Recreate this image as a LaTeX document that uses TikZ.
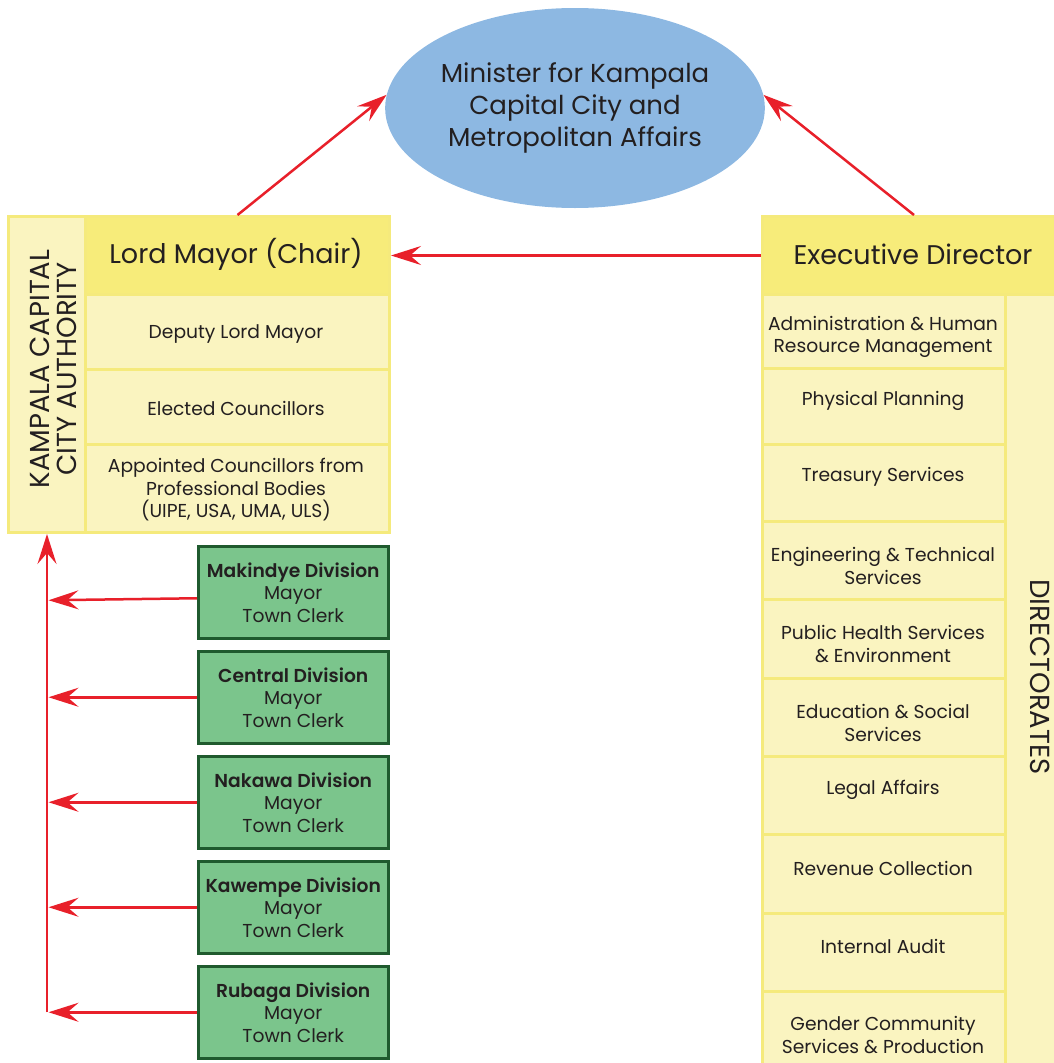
\documentclass[tikz,border=0pt]{standalone}
\usepackage{fontspec}
\setmainfont{Poppins}[BoldFont={Poppins SemiBold}]
\usetikzlibrary{arrows.meta,shapes.geometric}
\definecolor{kred}{HTML}{E8202A}
\definecolor{kblue}{HTML}{8DB8E2}
\definecolor{kyel}{HTML}{F7EC7A}
\definecolor{klight}{HTML}{FAF4C0}
\definecolor{kborder}{HTML}{F5EA7C}
\definecolor{kgreen}{HTML}{7BC58C}
\definecolor{kdgreen}{HTML}{1F5A2E}
\definecolor{ktext}{HTML}{231F20}
\begin{document}
\begin{tikzpicture}[x=1pt,y=-1pt,
  every node/.style={text=ktext, inner sep=0pt, align=center},
  cell/.style={draw=kborder, line width=3pt, fill=klight, anchor=north west},
  headcell/.style={draw=kborder, line width=3pt, fill=kyel, anchor=north west},
  divbox/.style={draw=kdgreen, line width=2.5pt, fill=kgreen, minimum width=190pt, minimum height=92pt, anchor=north west},
  bigtxt/.style={font=\fontsize{27}{32}\selectfont},
  smalltxt/.style={font=\fontsize{18.7}{22.5}\selectfont},
  rottxt/.style={font=\fontsize{27.5}{27}\selectfont},
  arr/.style={draw=kred, line width=2.5pt, -{Stealth[length=30pt,width=19pt,inset=11pt]}},
  redline/.style={draw=kred, line width=2.5pt}]
\useasboundingbox (0,0) rectangle (1054,1063);

% Minister ellipse
\node[ellipse, fill=kblue, minimum width=376pt, minimum height=200pt,
  font=\fontsize{26}{32}\selectfont] (min) at (575,108)
  {Minister for Kampala\\Capital City and\\Metropolitan Affairs};

% KCCA block
\node[cell, minimum width=77pt, minimum height=316pt] (kcca) at (7,215) {};
\node[headcell, minimum width=304pt, minimum height=78pt] (lm) at (84,215) {};
\node[cell, minimum width=304pt, minimum height=75pt] (dep) at (84,293) {};
\node[cell, minimum width=304pt, minimum height=75pt] (ele) at (84,368) {};
\node[cell, minimum width=304pt, minimum height=88pt] (app) at (84,443) {};
\node[rottxt, rotate=90] (kccaT) at (53,369) {KAMPALA CAPITAL\\CITY AUTHORITY};
\node[bigtxt] (lmT) at (236,254) {Lord Mayor (Chair)};
\node[smalltxt] (depT) at (236,334) {Deputy Lord Mayor};
\node[smalltxt] (eleT) at (236,408) {Elected Councillors};
\node[smalltxt] (appT) at (236,490) {Appointed Councillors from\\Professional Bodies\\(UIPE, USA, UMA, ULS)};

% Executive Director block
\node[headcell, minimum width=303pt, minimum height=78pt] (ed) at (761,215) {};
\node[cell, minimum width=60pt, minimum height=780pt] (dir) at (1004,293) {};
\node[cell, minimum width=243pt, minimum height=74pt] (adm) at (761,293) {};
\node[cell, minimum width=243pt, minimum height=76pt] (phy) at (761,367) {};
\node[cell, minimum width=243pt, minimum height=77pt] (tre) at (761,443) {};
\node[cell, minimum width=243pt, minimum height=78pt] (eng) at (761,520) {};
\node[cell, minimum width=243pt, minimum height=79pt] (pub) at (761,598) {};
\node[cell, minimum width=243pt, minimum height=78pt] (edu) at (761,677) {};
\node[cell, minimum width=243pt, minimum height=78pt] (leg) at (761,755) {};
\node[cell, minimum width=243pt, minimum height=79pt] (rev) at (761,833) {};
\node[cell, minimum width=243pt, minimum height=78pt] (aud) at (761,912) {};
\node[cell, minimum width=243pt, minimum height=80pt] (gen) at (761,990) {};
\node[bigtxt] (edT) at (913,254) {Executive Director};
\node[rottxt, rotate=-90] (dirT) at (1040,677) {DIRECTORATES};
\node[smalltxt] (admT) at (883,337) {Administration \& Human\\Resource Management};
\node[smalltxt] (phyT) at (883,401) {Physical Planning};
\node[smalltxt] (treT) at (883,477) {Treasury Services};
\node[smalltxt] (engT) at (883,566) {Engineering \& Technical\\Services};
\node[smalltxt] (pubT) at (883,644) {Public Health Services\\\& Environment};
\node[smalltxt] (eduT) at (883,723) {Education \& Social\\Services};
\node[smalltxt] (legT) at (883,790) {Legal Affairs};
\node[smalltxt] (revT) at (883,868) {Revenue Collection};
\node[smalltxt] (audT) at (883,946) {Internal Audit};
\node[smalltxt] (genT) at (883,1035) {Gender Community\\Services \& Production};

% Divisions
\node[divbox, smalltxt] (mak) at (197,545) {\textbf{Makindye Division}\\Mayor\\Town Clerk};
\node[divbox, smalltxt] (cen) at (197,650) {\textbf{Central Division}\\Mayor\\Town Clerk};
\node[divbox, smalltxt] (nak) at (197,755) {\textbf{Nakawa Division}\\Mayor\\Town Clerk};
\node[divbox, smalltxt] (kaw) at (197,860) {\textbf{Kawempe Division}\\Mayor\\Town Clerk};
\node[divbox, smalltxt] (rub) at (197,965) {\textbf{Rubaga Division}\\Mayor\\Town Clerk};

% Connectors
\draw[arr] (lm.north) -- (min.176);
\draw[arr] (ed.north) -- (min.4);
\draw[arr] (ed.west) -- (lm.east);
\coordinate (vb) at (rub.west -| kcca.south);
\coordinate (vx) at ([xshift=1.5pt]vb);
\draw[arr] (vb) -- (kcca.south);
\draw[arr] ([yshift=-6pt]mak.west) -- ([yshift=-8pt]mak.west -| vx);
\draw[arr] (cen.west) -- (cen.west -| vx);
\draw[arr] (nak.west) -- (nak.west -| vx);
\draw[arr] (kaw.west) -- (kaw.west -| vx);
\draw[arr] (rub.west) -- (rub.west -| vx);
\end{tikzpicture}
\end{document}
